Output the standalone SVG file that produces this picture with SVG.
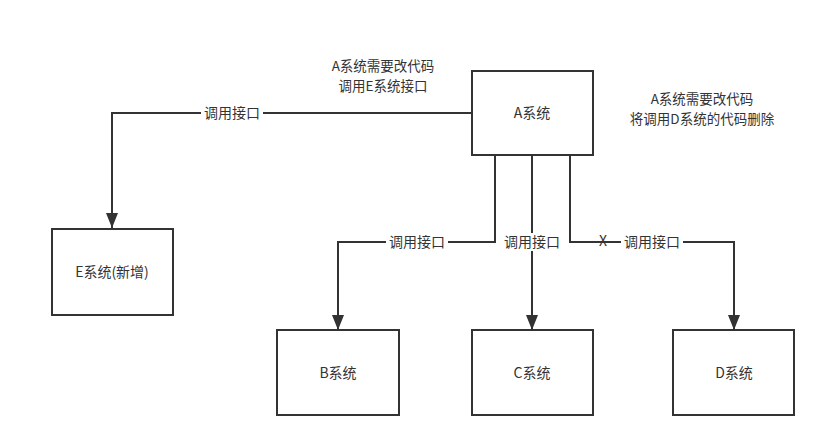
<svg xmlns="http://www.w3.org/2000/svg" width="818" height="428" viewBox="0 0 818 428">
<defs>
<style>
.box{fill:#fff;stroke:#333;stroke-width:2}
.ln{fill:none;stroke:#333;stroke-width:2}
.t{font-family:"Noto Sans CJK SC","Liberation Sans",sans-serif;font-size:14px;fill:#333;text-anchor:middle}
.n{font-size:13.5px}
.lb{fill:#fff}
</style>
<marker id="ah" viewBox="0 0 15 12" refX="15" refY="6" markerWidth="7.5" markerHeight="6" orient="auto" markerUnits="strokeWidth">
<path d="M0,0 L15,6 L0,12 Z" fill="#333"/>
</marker>
</defs>
<rect width="818" height="428" fill="#fff"/>
<g id="connectors">
<path class="ln" d="M472,113 H112 V228" marker-end="url(#ah)"/>
<path class="ln" d="M495,155 V242 H338 V330" marker-end="url(#ah)"/>
<path class="ln" d="M532,155 V330" marker-end="url(#ah)"/>
<path class="ln" d="M570,155 V242 H734 V330" marker-end="url(#ah)"/>
<rect class="lb" x="201" y="104" width="62" height="18"/>
<text class="t" x="232" y="118">调用接口</text>
<rect class="lb" x="386" y="233" width="62" height="18"/>
<text class="t" x="417" y="247">调用接口</text>
<rect class="lb" x="501" y="233" width="62" height="18"/>
<text class="t" x="532" y="247">调用接口</text>
<rect class="lb" x="621" y="233" width="62" height="18"/>
<text class="t" x="652" y="247">调用接口</text>
<text class="t" x="603" y="246">X</text>
</g>
<g id="A"><rect class="box" x="472" y="71" width="121" height="84"/><text class="t" x="532" y="118">A系统</text></g>
<g id="E"><rect class="box" x="52" y="229" width="121" height="86"/><text class="t" x="112" y="277">E系统(新增)</text></g>
<g id="B"><rect class="box" x="277" y="330" width="122" height="85"/><text class="t" x="338" y="378">B系统</text></g>
<g id="C"><rect class="box" x="472" y="330" width="121" height="85"/><text class="t" x="532" y="378">C系统</text></g>
<g id="D"><rect class="box" x="673" y="330" width="121" height="85"/><text class="t" x="734" y="378">D系统</text></g>
<g id="notes">
<text class="t n" x="383" y="71">A系统需要改代码</text>
<text class="t n" x="383" y="91">调用E系统接口</text>
<text class="t n" x="702" y="104">A系统需要改代码</text>
<text class="t n" x="702" y="124">将调用D系统的代码删除</text>
</g>
</svg>
